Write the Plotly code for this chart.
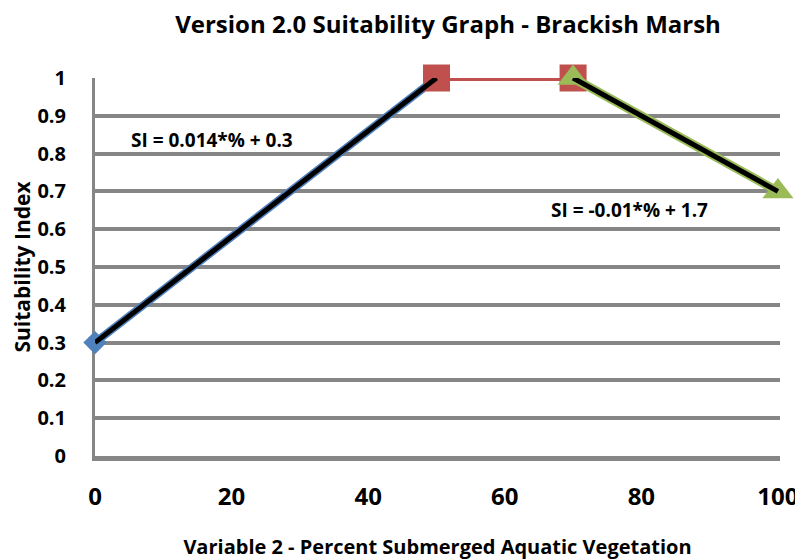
import plotly.graph_objects as go

blue_x = [0, 50]
blue_y = [0.3, 1.0]
red_x = [50, 70]
red_y = [1.0, 1.0]
green_x = [70, 100]
green_y = [1.0, 0.7]
trend1_x = [0, 50]
trend1_y = [0.3, 1.0]
trend2_x = [70, 100]
trend2_y = [1.0, 0.7]
eq1 = "SI = 0.014*% + 0.3"
eq2 = "SI = -0.01*% + 1.7"
x_ticks = [0, 20, 40, 60, 80, 100]
y_ticks = [0, 0.1, 0.2, 0.3, 0.4, 0.5, 0.6, 0.7, 0.8, 0.9, 1]
y_tick_text = ["0", "0.1", "0.2", "0.3", "0.4", "0.5", "0.6", "0.7", "0.8", "0.9", "1"]

FONT = "Open Sans"
fig = go.Figure()

fig.add_trace(go.Scatter(x=blue_x, y=blue_y, mode="lines", line=dict(color="#4F81BD", width=8),
                         cliponaxis=False, showlegend=False))
fig.add_trace(go.Scatter(x=red_x, y=red_y, mode="lines+markers", line=dict(color="#C0504D", width=6),
                         marker=dict(symbol="square", size=27, color="#C0504D"),
                         cliponaxis=False, showlegend=False))
fig.add_trace(go.Scatter(x=green_x, y=green_y, mode="lines+markers", line=dict(color="#9BBB59", width=9),
                         marker=dict(symbol="triangle-up", size=27, color="#9BBB59"),
                         cliponaxis=False, showlegend=False))
fig.add_trace(go.Scatter(x=[blue_x[0]], y=[blue_y[0]], mode="markers",
                         marker=dict(symbol="diamond", size=18, color="#4F81BD"),
                         cliponaxis=False, showlegend=False))
fig.add_trace(go.Scatter(x=trend1_x, y=trend1_y, mode="lines", line=dict(color="black", width=5),
                         cliponaxis=False, showlegend=False))
fig.add_trace(go.Scatter(x=trend2_x, y=trend2_y, mode="lines", line=dict(color="black", width=5),
                         cliponaxis=False, showlegend=False))

fig.add_annotation(x=17.1, y=0.835, text=eq1, showarrow=False, xref="x", yref="y",
                   font=dict(family=FONT, size=19, color="black", weight="bold"))
fig.add_annotation(x=78.3, y=0.65, text=eq2, showarrow=False, xref="x", yref="y",
                   font=dict(family=FONT, size=19, color="black", weight="bold"))

fig.update_layout(
    width=795, height=552,
    margin=dict(l=87, r=23, t=70, b=104),
    paper_bgcolor="white", plot_bgcolor="white",
    title=dict(text="<b>Version 2.0 Suitability Graph - Brackish Marsh</b>", x=0.5535, xanchor="center",
               y=0.970, yanchor="middle", font=dict(family=FONT, size=24, color="black")),
    xaxis=dict(range=[0, 100.3], tickvals=x_ticks, showgrid=False, zeroline=False,
               showline=True, linecolor="#868686", linewidth=5, automargin=False,
               ticks="outside", ticklen=15, tickcolor="rgba(0,0,0,0)",
               tickfont=dict(family=FONT, size=24, color="black", weight="bold"),
               title=dict(text="<b>Variable 2 - Percent Submerged Aquatic Vegetation</b>", standoff=32,
                          font=dict(family=FONT, size=20, color="black"))),
    yaxis=dict(range=[0, 1.0], tickvals=y_ticks, ticktext=y_tick_text, showgrid=True,
               gridcolor="#868686", gridwidth=4, zeroline=False, layer="below traces",
               showline=True, linecolor="#868686", linewidth=3, automargin=False,
               ticks="outside", ticklen=22, tickcolor="rgba(0,0,0,0)",
               tickfont=dict(family=FONT, size=20, color="black", weight="bold"),
               title=dict(text="<b>Suitability Index</b>", standoff=8,
                          font=dict(family=FONT, size=21, color="black"))),
)

fig.write_html("out.html")
